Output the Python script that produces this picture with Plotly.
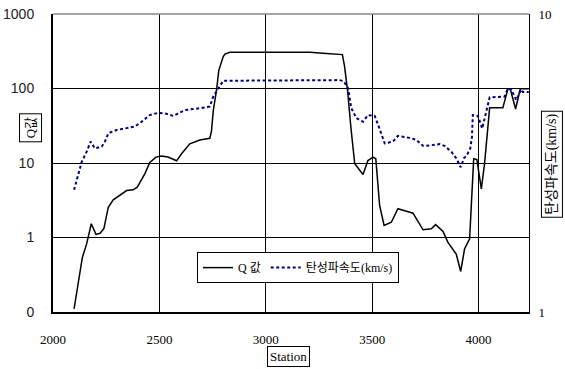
import plotly.graph_objects as go

# Q 값 (left axis, log)
st_q = [2099, 2138, 2158, 2180, 2202, 2221, 2239, 2260, 2283, 2315, 2346, 2377, 2396, 2432, 2455,
        2484, 2510, 2540, 2581, 2604, 2643, 2690, 2737, 2745, 2753, 2769, 2779, 2800, 2808, 2831,
        3207, 3269, 3316, 3360, 3370, 3385, 3400, 3418, 3457, 3480, 3504, 3517, 3535, 3556, 3590,
        3621, 3661, 3692, 3739, 3778, 3798, 3833, 3856, 3895, 3916, 3934, 3958, 3977, 3992, 4013,
        4028, 4052, 4114, 4138, 4149, 4174, 4196, 4236]
q_val = [0.11, 0.54, 0.82, 1.53, 1.1, 1.14, 1.31, 2.55, 3.2, 3.66, 4.27, 4.37, 4.73, 7.2, 10.2,
         12.0, 12.4, 12.0, 10.7, 13.3, 18.1, 20.4, 21.5, 27, 50, 97, 174, 268, 290, 307,
         307, 297, 290, 285, 200, 90, 30, 9.75, 7.0, 10.8, 12.0, 11.4, 2.69, 1.45, 1.6,
         2.43, 2.25, 2.12, 1.27, 1.31, 1.49, 1.21, 0.86, 0.6, 0.35, 0.7, 0.96, 11.4, 11.1, 4.5,
         9.75, 55, 55, 99, 99, 53, 99, 99]

# 탄성파속도 (right axis, log)
st_v = [2099, 2119, 2135, 2158, 2177, 2197, 2229, 2244, 2260, 2299, 2338, 2385, 2416, 2455, 2494,
        2526, 2565, 2620, 2690, 2737, 2753, 2776, 2800, 3347, 3366, 3387, 3402, 3426, 3457, 3480,
        3512, 3531, 3559, 3598, 3621, 3676, 3708, 3739, 3754, 3817, 3840, 3872, 3895, 3916, 3931,
        3945, 3961, 3969, 3973, 3997, 4017, 4036, 4052, 4122, 4138, 4154, 4177, 4200, 4208, 4236]
v_val = [2.57, 2.92, 3.19, 3.45, 3.73, 3.54, 3.59, 3.73, 3.98, 4.08, 4.13, 4.19, 4.35, 4.58, 4.66,
         4.64, 4.55, 4.76, 4.83, 4.89, 5.28, 5.63, 5.97, 6.0, 5.95, 5.63, 4.83, 4.47, 4.35, 4.58,
         4.55, 4.19, 3.68, 3.73, 3.9, 3.84, 3.78, 3.61, 3.61, 3.66, 3.61, 3.45, 3.28, 3.06, 3.28,
         3.36, 3.54, 3.87, 4.58, 4.55, 4.13, 4.7, 5.25, 5.28, 5.63, 5.58, 5.14, 5.58, 5.47, 5.47]

x_ticks = [2000, 2500, 3000, 3500, 4000]
y_ticks = [0.1, 1, 10, 100, 1000]
y_ticktext = ["0", "1", "10", "100", "1000"]
y2_ticks = [1, 10]

SERIF = "Liberation Serif, Noto Sans CJK KR, serif"
SANS = "Liberation Sans, Arial, sans-serif"

fig = go.Figure()
fig.add_trace(go.Scatter(x=st_q, y=q_val, mode="lines", name="Q 값",
                         line=dict(color="black", width=1.5)))
fig.add_trace(go.Scatter(x=st_v, y=v_val, mode="lines", name="탄성파속도(km/s)", yaxis="y2",
                         line=dict(color="#000080", width=2, dash="3px,2.5px")))

fig.update_layout(
    width=565, height=369,
    margin=dict(l=53, r=36, t=14, b=57, autoexpand=False),
    paper_bgcolor="white", plot_bgcolor="white",
    showlegend=True,
    legend=dict(x=0.3025, y=0.201, xanchor="left", yanchor="top", orientation="h",
                bordercolor="black", borderwidth=1, bgcolor="white",
                font=dict(family=SERIF, size=12, color="black"),
                itemwidth=30, tracegroupgap=0),
    xaxis=dict(range=[2000, 4237], tickvals=x_ticks, ticktext=[str(t) for t in x_ticks],
               showgrid=True, gridcolor="black", gridwidth=1, zeroline=False,
               showline=True, linecolor="black", linewidth=2, mirror=False,
               ticks="", ticklabelstandoff=14, automargin=False,
               tickfont=dict(family=SERIF, size=13, color="black")),
    yaxis=dict(type="log", range=[-1, 3], tickvals=y_ticks, ticktext=y_ticktext,
               showgrid=True, gridcolor="black", gridwidth=1, zeroline=False,
               showline=True, linecolor="black", linewidth=2,
               ticks="", ticklabelstandoff=14, automargin=False,
               tickfont=dict(family=SANS, size=14, color="#222")),
    yaxis2=dict(type="log", range=[0, 1], tickvals=y2_ticks, ticktext=["1", "10"],
                overlaying="y", side="right", showgrid=False, zeroline=False,
                showline=True, linecolor="black", linewidth=1,
                ticks="", ticklabelstandoff=6, automargin=False,
                tickfont=dict(family=SERIF, size=13, color="black")),
)

# top border (grey)
fig.add_shape(type="line", xref="paper", yref="paper", x0=0, x1=1, y0=1, y1=1,
              line=dict(color="#888", width=1.5))

fig.add_annotation(text="Q값", xref="paper", yref="paper", x=-0.048, y=0.617,
                   xanchor="center", yanchor="middle",
                   showarrow=False, textangle=-90, bordercolor="black", borderwidth=1,
                   borderpad=3, bgcolor="white",
                   font=dict(family=SERIF, size=13, color="black"))
fig.add_annotation(text="탄성파속도(km/s)", xref="paper", yref="paper", x=1.048, y=0.497,
                   xanchor="center", yanchor="middle",
                   showarrow=False, textangle=-90, bordercolor="black", borderwidth=1,
                   borderpad=2, bgcolor="white",
                   font=dict(family=SERIF, size=14, color="black"))
fig.add_annotation(text="Station", xref="paper", yref="paper", x=0.494, y=-0.148,
                   xanchor="center", yanchor="middle",
                   showarrow=False, bordercolor="black", borderwidth=1,
                   borderpad=2, bgcolor="white",
                   font=dict(family=SERIF, size=13, color="black"))

fig.write_html("out.html", config={"displayModeBar": False},
               post_script="document.body.style.margin='0';")
